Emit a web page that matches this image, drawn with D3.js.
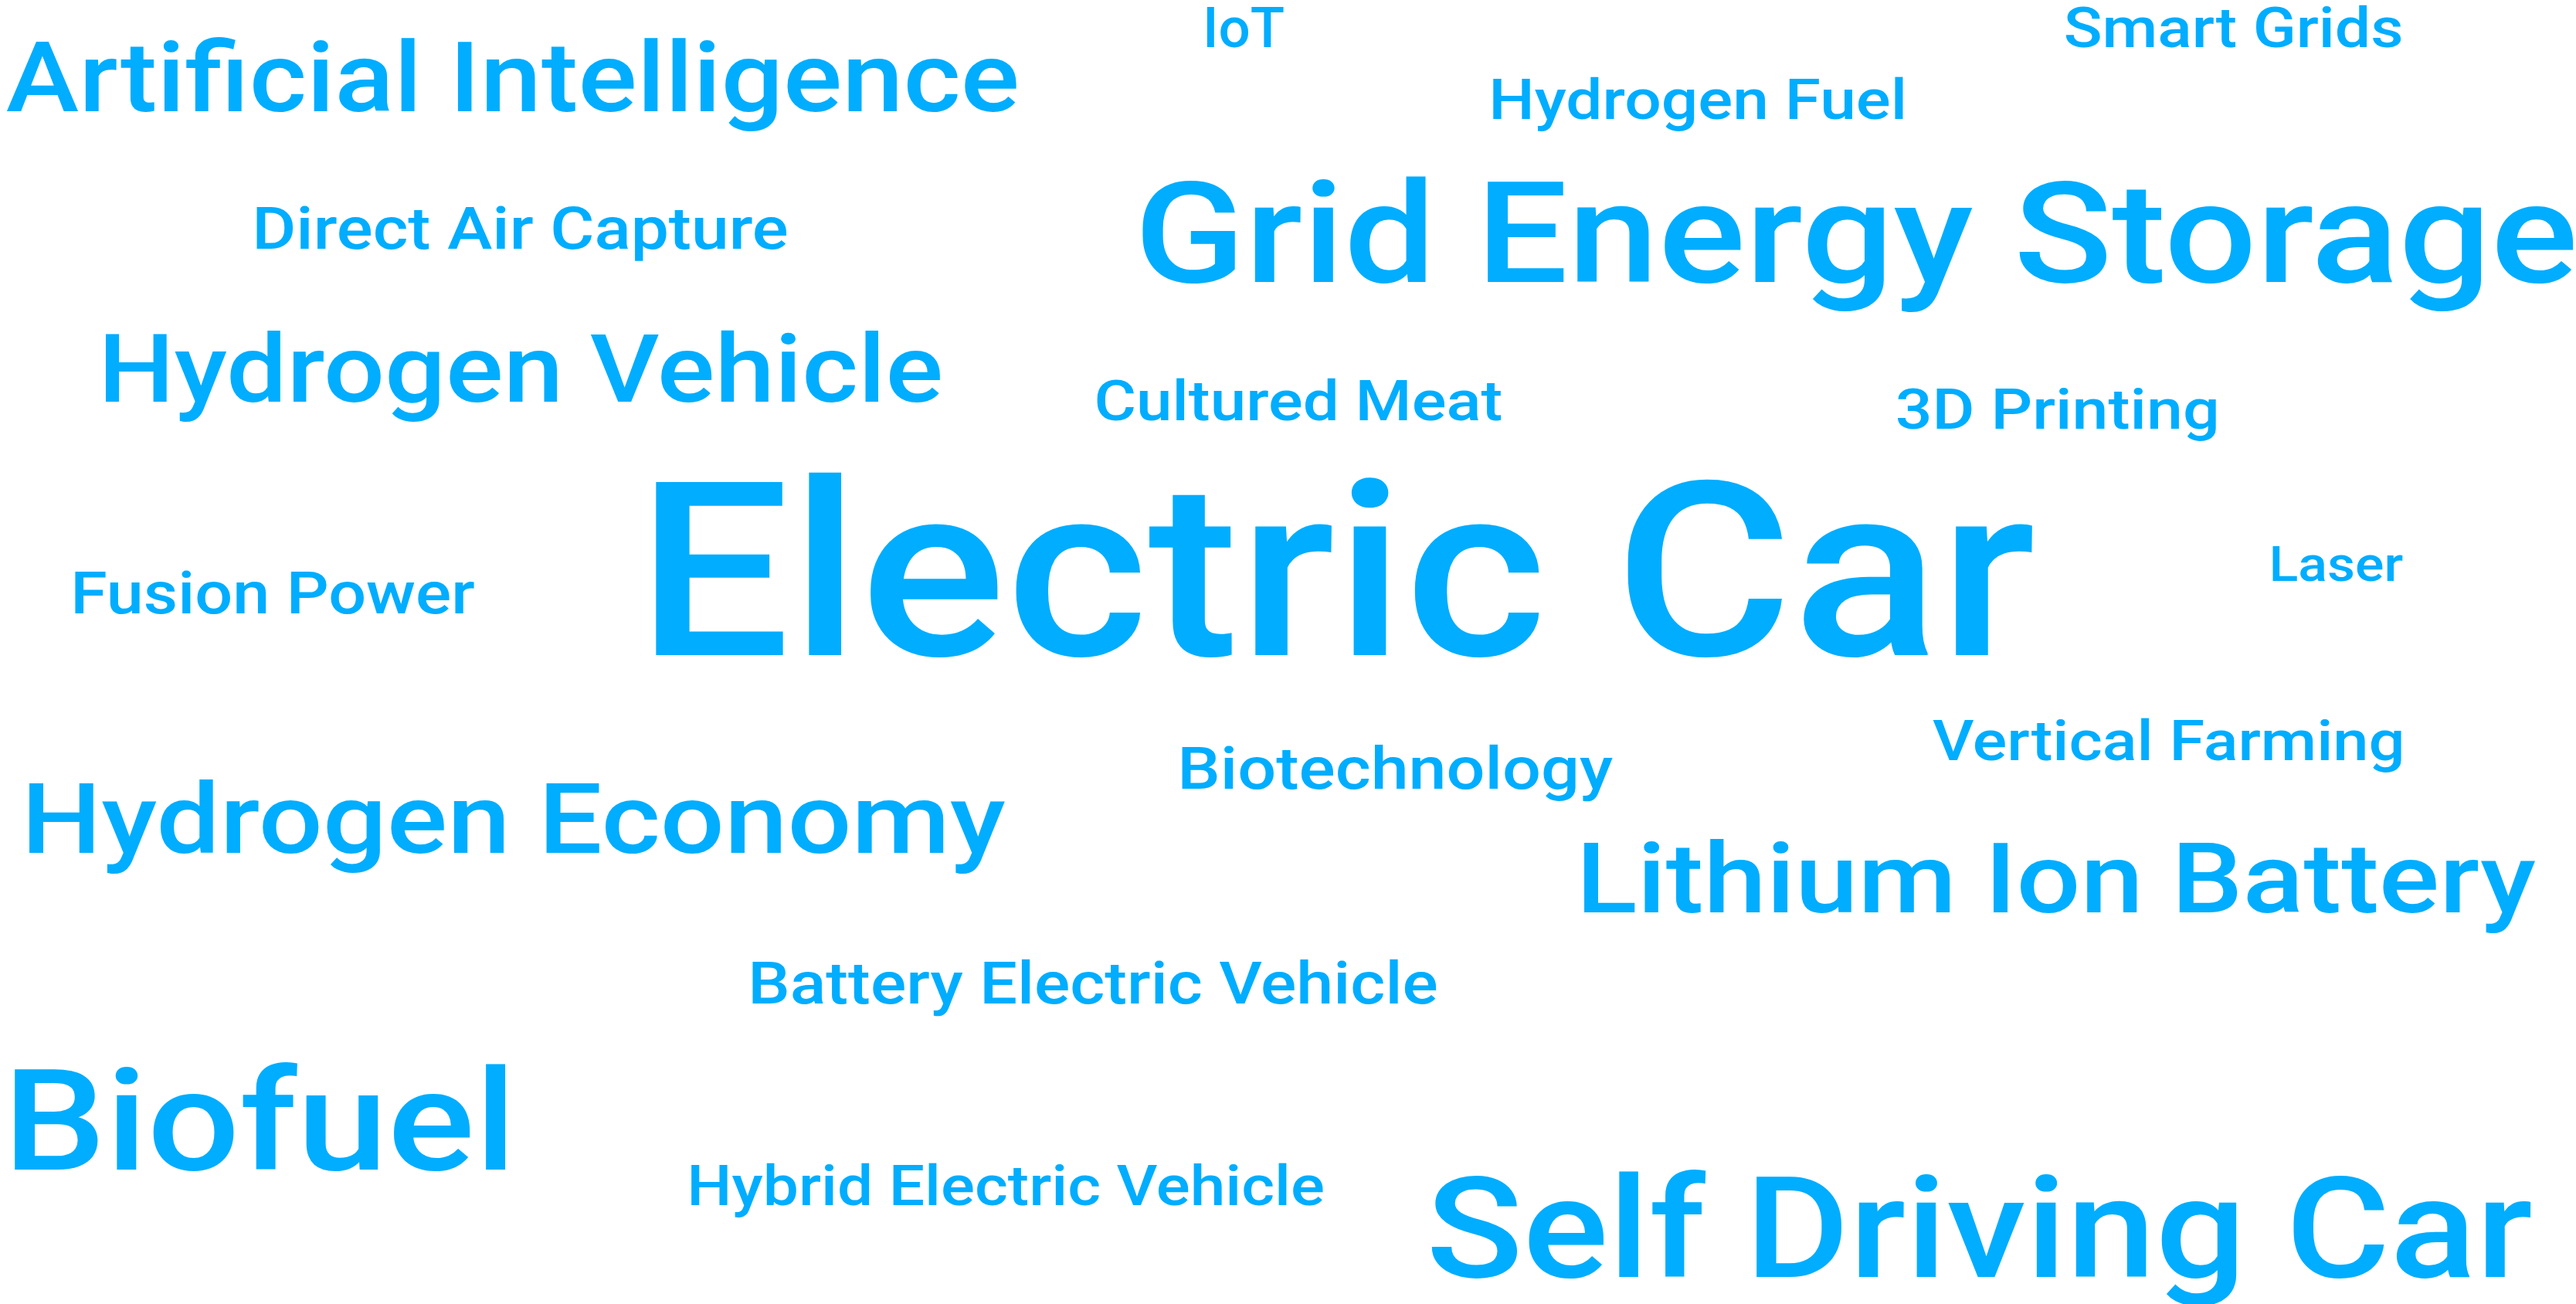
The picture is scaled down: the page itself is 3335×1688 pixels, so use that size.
<!DOCTYPE html>
<html>
<head>
<meta charset="utf-8">
<script src="https://cdn.jsdelivr.net/npm/d3@7"></script>
<style>
  html, body { margin: 0; padding: 0; background: #ffffff; overflow: hidden; }
  svg { display: block; }
</style>
</head>
<body>
<svg id="chart"></svg>
<script>
// ---- data ----
const words = [
  "Artificial Intelligence", "IoT", "Smart Grids", "Hydrogen Fuel",
  "Grid Energy Storage", "Direct Air Capture", "Hydrogen Vehicle",
  "Cultured Meat", "3D Printing", "Electric Car", "Laser", "Fusion Power",
  "Vertical Farming", "Biotechnology", "Hydrogen Economy",
  "Lithium Ion Battery", "Battery Electric Vehicle", "Biofuel",
  "Hybrid Electric Vehicle", "Self Driving Car"
];
const values = [
  40, 23, 23, 23,
  58, 24, 39,
  23, 23, 100, 20, 24,
  23, 24, 40,
  40, 24, 58,
  23, 58
];

// ---- cloud layout (ink left x, baseline y, ink width) ----
const layoutX = [9, 1562, 2674, 1933, 1479, 332, 136, 1420, 2456, 846, 2942, 97, 2502, 1530, 38, 2051, 974, 19, 895, 1853];
const layoutY = [144, 61, 61, 154, 365, 322, 520, 544, 555, 848, 752, 794, 984, 1021, 1104, 1181, 1299, 1514, 1560, 1653];
const layoutW = [1307, 100, 435, 531, 1853, 687, 1082, 524, 413, 1786, 169, 517, 607, 558, 1263, 1231, 886, 636, 818, 1424];

const W = 3335, H = 1688;
const color = "#00adff";
const family = "Roboto, 'Noto Sans', sans-serif";
const weight = 500;

const svg = d3.select("#chart").attr("width", W).attr("height", H);

// value -> cap height (px); font size derived from font cap-height ratio
const capScale = d3.scaleLinear().domain([0, 100]).range([0, 224]);
const capRatio = 0.711; // Roboto cap height / em

const ctx = document.createElement("canvas").getContext("2d");

const data = words.map((w, i) => {
  const fs = capScale(values[i]) / capRatio;
  ctx.font = `${weight} ${fs}px ${family}`;
  const m = ctx.measureText(w);
  const inkL = -m.actualBoundingBoxLeft;
  const inkR = m.actualBoundingBoxRight;
  const s = layoutW[i] / (inkR - inkL);
  return {
    text: w, value: values[i], fs,
    x: layoutX[i] - s * inkL,
    y: layoutY[i],
    len: s * m.width
  };
});

svg.append("g")
  .selectAll("text")
  .data(data)
  .join("text")
  .attr("x", d => d.x)
  .attr("y", d => d.y)
  .attr("font-family", family)
  .attr("font-weight", weight)
  .attr("font-size", d => d.fs)
  .attr("fill", color)
  .attr("textLength", d => d.len)
  .attr("lengthAdjust", "spacingAndGlyphs")
  .text(d => d.text);
</script>
</body>
</html>
